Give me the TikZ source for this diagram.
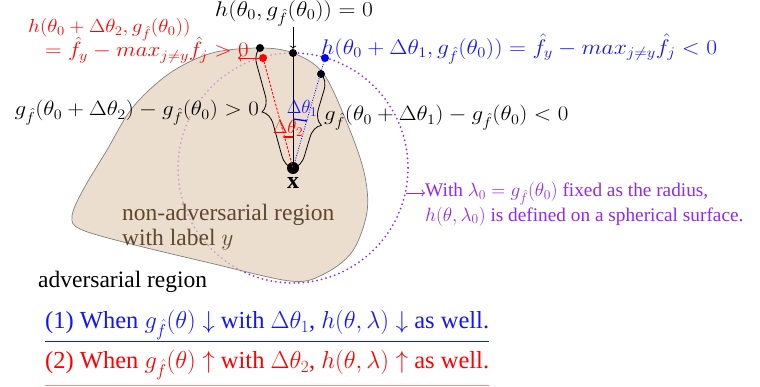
\RequirePackage{fix-cm}
\documentclass[tikz,border=0pt]{standalone}
\usepackage{fontspec}
\usepackage{graphicx}
\setmainfont{Liberation Serif}
\usetikzlibrary{decorations.pathreplacing,arrows.meta}
\definecolor{regfill}{RGB}{228,208,185}
\definecolor{regtext}{RGB}{95,70,45}
\definecolor{vio}{RGB}{145,40,240}
\definecolor{lred}{RGB}{255,140,140}
\definecolor{myblue}{RGB}{20,20,255}
\newcommand{\vsq}[1]{\scalebox{1}[0.9]{#1}}
\begin{document}
\begin{tikzpicture}[x=1pt,y=-1pt,
  dot/.style={circle,fill=black,inner sep=0pt,minimum size=8pt},
  lbl/.style={inner sep=0pt,font=\fontsize{23}{26}\selectfont},
  small/.style={inner sep=0pt,font=\fontsize{19}{21}\selectfont},
  big/.style={inner sep=0pt,font=\fontsize{23.5}{25}\selectfont,align=left},
  stmt/.style={inner sep=0pt,font=\fontsize{24.5}{26}\selectfont},
  bracestyle/.style={decorate,decoration={brace,amplitude=15pt},line width=0.8pt}]
\useasboundingbox (0,0) rectangle (760,387);
\coordinate (xc) at (293,168);
% spherical surface
\draw[vio,line width=2pt,dash pattern=on 0pt off 4.6pt,line cap=round] (xc) circle (115);
% region
\fill[regfill,opacity=0.7] plot[smooth cycle,tension=0.55] coordinates {(260,48) (293,53) (323,73) (347,123) (364,172) (367,212) (352,252) (322,275) (290,281) (210,263) (127,243) (80,229) (72,216) (83,190) (107,150) (133,107) (170,73) (212,53)};
\draw[gray,line width=0.7pt] plot[smooth cycle,tension=0.55] coordinates {(260,48) (293,53) (323,73) (347,123) (364,172) (367,212) (352,252) (322,275) (290,281) (210,263) (127,243) (80,229) (72,216) (83,190) (107,150) (133,107) (170,73) (212,53)};
% points
\node[dot,minimum size=12pt] (X) at (xc) {};
\node[inner sep=0pt,font=\fontsize{24}{26}\selectfont] (xl) at (293,183) {$\mathbf{x}$};
\node[dot] (T0) at (293,53) {};
\node[dot] (D2) at (260,48) {};
\node[dot] (D1) at (321,74) {};
\node[dot,fill=red] (R) at (263,58) {};
\node[dot,fill=blue] (B) at (325,58) {};
% rays
\draw[line width=0.8pt] (X.center) -- (T0.center);
\draw[red,line width=0.8pt,dash pattern=on 2.5pt off 1.5pt] (X.center) -- (R.center);
\draw[blue,line width=0.8pt,dash pattern=on 1pt off 1.5pt] (X.center) -- (B.center);
% braces
\draw[bracestyle] (X.center) -- (D2.center);
\draw[bracestyle] (D1.center) -- (X.center);
% labels
\node[lbl,font=\fontsize{23.6}{26}\selectfont] (top) at (294,13.5) {\vsq{$h(\theta_0, g_{\hat f}(\theta_0)) = 0$}};
\draw[->,line width=0.7pt] (top.south -| T0) -- (T0.north);
\node[lbl,red,anchor=west,font=\fontsize{21}{24}\selectfont] (r1) at (28,30) {\vsq{$h(\theta_0+\Delta\theta_2, g_{\hat f}(\theta_0))$}};
\node[lbl,red,anchor=west] (r2) at (45,50) {\vsq{$= \hat f_y - max_{j\neq y}\hat f_j > 0$}};
\coordinate (rtip) at (238,58);
\draw[red,->,line width=0.8pt] (R) -- (rtip);
\node[lbl,myblue,anchor=west,font=\fontsize{23.5}{26}\selectfont] (bl) at (321,49) {\vsq{$h(\theta_0+\Delta\theta_1, g_{\hat f}(\theta_0)) = \hat f_y - max_{j\neq y}\hat f_j < 0$}};
\node[lbl,anchor=east] (lb) at (259,113) {\vsq{$g_{\hat f}(\theta_0+\Delta\theta_2) - g_{\hat f}(\theta_0) > 0$}};
\node[lbl,anchor=west] (rb) at (324,118) {\vsq{$g_{\hat f}(\theta_0+\Delta\theta_1) - g_{\hat f}(\theta_0) < 0$}};
% delta arrows
\coordinate (a1s) at (293,119);
\coordinate (a1e) at (308,121);
\draw[blue,-{Latex[length=3pt]},line width=1.3pt] (a1s) -- (a1e);
\node[small,myblue] (d1) at (302,108) {$\Delta\theta_1$};
\coordinate (a2s) at (293,137);
\coordinate (a2e) at (282,137);
\draw[red,-{Latex[length=3pt]},line width=1.1pt] (a2s) -- (a2e);
\node[small,red] (d2) at (288,128) {$\Delta\theta_2$};
% region texts
\node[big,regtext,anchor=north west] (nar) at (122,204) {non-adversarial region\\with label $y$};
\node[big,anchor=west] (adv) at (38,282) {adversarial region};
% violet note
\coordinate (vs) at (406,193);
\node[inner sep=0pt,vio,anchor=north west,align=left,font=\fontsize{19.3}{23}\selectfont] (vt) at (425,182) {With $\lambda_0 = g_{\hat f}(\theta_0)$ fixed as the radius,\\$h(\theta,\lambda_0)$ is defined on a spherical surface.};
\draw[vio,->,line width=0.8pt] (vs) -- (vs -| vt.west);
% bottom statements
\node[stmt,myblue,anchor=west] (s1) at (45,325) {(1) When $g_{\hat f}(\theta)\downarrow$ with $\Delta\theta_1$, $h(\theta,\lambda)\downarrow$ as well.};
\draw[myblue,line width=0.8pt] (s1.west |- 0,341) coordinate (u1a) -- (s1.east |- 0,341) coordinate (u1b);
\node[stmt,red,anchor=west] (s2) at (45,365) {(2) When $g_{\hat f}(\theta)\uparrow$ with $\Delta\theta_2$, $h(\theta,\lambda)\uparrow$ as well.};
\draw[lred,line width=0.8pt] (s2.west |- 0,385) coordinate (u2a) -- (s2.east |- 0,385) coordinate (u2b);
\end{tikzpicture}
\end{document}
